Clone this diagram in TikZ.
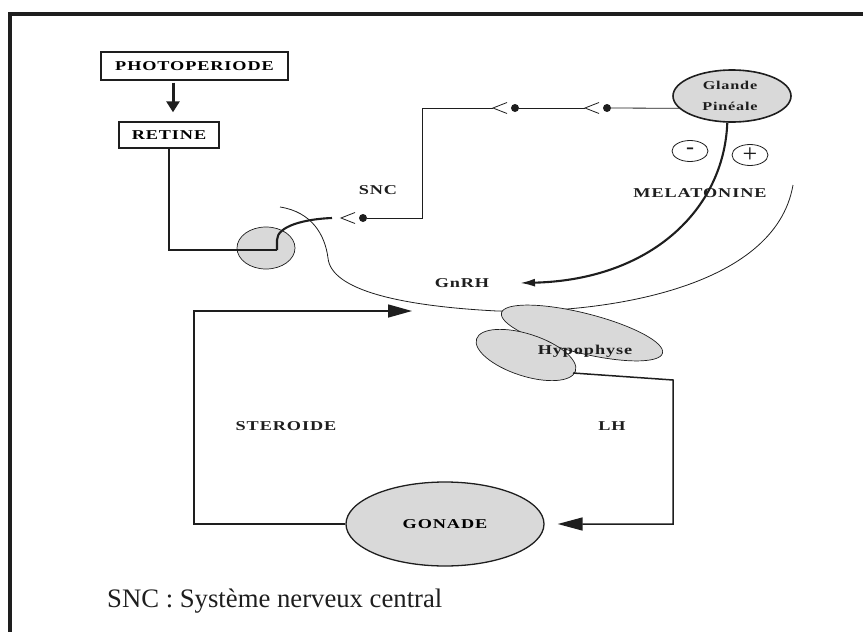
\documentclass[tikz,border=0pt]{standalone}
\usepackage{fontspec}
\setmainfont{Liberation Serif}
\newfontfamily\labfont[LetterSpace=5]{Liberation Serif}
\usetikzlibrary{arrows.meta,shapes.geometric}
\definecolor{ink}{HTML}{1E1E1E}
\definecolor{organgray}{HTML}{D9D9D9}
\newcommand\mylbl[2][13.5]{\scalebox{1.35}[1]{\labfont\bfseries\fontsize{#1}{#1}\selectfont #2}}
\newcommand\mychev[1]{\draw[thinline] ([xshift=-8pt,yshift=5.5pt]#1.center) -- ([xshift=-22pt]#1.center) -- ([xshift=-8pt,yshift=-5.5pt]#1.center);}
\begin{document}
\begin{tikzpicture}[x=1pt,y=-1pt,
  boxnode/.style={draw=ink, line width=1.4pt, inner sep=0pt},
  organ/.style={ellipse, draw=ink, fill=organgray, inner sep=0pt},
  lab/.style={inner sep=0pt, text=ink},
  thinline/.style={draw=ink, line width=0.8pt},
  conn/.style={draw=ink, line width=1.5pt},
  nerve/.style={draw=ink, line width=2.1pt},
  dotnode/.style={circle, fill=ink, inner sep=0pt, minimum size=8pt},
  sign/.style={ellipse, draw=ink, line width=0.8pt, minimum width=36pt, minimum height=21pt, inner sep=0pt, text=ink}
]
\useasboundingbox (0,0) rectangle (863,632);
% frame
\draw[ink, line width=4pt] (10,632) -- (10,14) -- (863,14);

% boxes
\node[boxnode, minimum width=187pt, minimum height=28pt] (photo) at (194.5,66) {\mylbl{PHOTOPERIODE}};
\node[boxnode, minimum width=100pt, minimum height=26pt] (retine) at (169,135) {\mylbl{RETINE}};
\draw[ink, line width=3pt, -{Triangle[length=11pt,width=13pt]}, shorten <=2pt, shorten >=9pt]
  ([xshift=-21.5pt]photo.south) -- ([xshift=4pt]retine.north);

% hypothalamus outline
\draw[thinline] (280,207) .. controls (312,212) and (325,235) .. (328,258)
  .. controls (331,290) and (400,306) .. (497,311)
  .. controls (600,314) and (775,290) .. (793,185);

% retina nerve
\node[organ, line width=0.7pt, minimum width=58pt, minimum height=42pt] (nucleus) at (266,248) {};
\coordinate (r1) at (277,250);
\coordinate (n1) at (332,218);
\draw[conn] (retine.south) |- (r1);
\draw[nerve] (r1) -- ++(0,-10) .. controls (277,226) and (305,219) .. (n1);

% pineal gland
\node[organ, line width=1.6pt, minimum width=118pt, minimum height=52pt] (glande) at (732,96) {};
\node[lab] at (730,85) {\mylbl[12]{Glande}};
\node[lab] at (730,106) {\mylbl[12]{Pinéale}};

% synapses
\node[dotnode] (d1) at (363,218) {};
\node[dotnode] (d2) at (515,108) {};
\node[dotnode] (d3) at (607,108) {};
\coordinate (c1) at (422,218);
\mychev{d1}
\mychev{d2}
\mychev{d3}
\draw[thinline] (d1) -- (c1) |- ([xshift=-22pt]d2.center);
\draw[thinline] (d2) -- ([xshift=-22pt]d3.center);
\draw[thinline] (d3) -- (glande.193);

% labels
\node[lab] (snc) at (378,190) {\mylbl{SNC}};
\node[lab] (melat) at (700,193) {\mylbl{MELATONINE}};
\node[lab] (gnrh) at (462,283) {\mylbl{GnRH}};
\node[sign] (minus) at (690,151) {\fontsize{24}{24}\selectfont -};
\node[sign] (plus) at (750,155) {\fontsize{26}{26}\selectfont +};

% melatonin arrow
\coordinate (gtip) at (520,283);
\draw[nerve, -{Latex[length=15pt,width=8pt]}] (glande.260) .. controls (724,210) and (650,280) .. (gtip);

% hypophyse
\node[organ, line width=0.7pt, minimum width=166pt, minimum height=40pt, rotate=-14] (hypo1) at (582,333) {};
\node[organ, line width=0.7pt, minimum width=104pt, minimum height=42pt, rotate=-18] (hypo2) at (526,355) {};
\node[lab] (hyptext) at (585,351) {\mylbl{Hypophyse}};

% gonade
\node[organ, line width=1.3pt, minimum width=198pt, minimum height=84pt] (gonade) at (445,524) {\mylbl{GONADE}};

% LH loop
\coordinate (lhs) at (573,373);
\coordinate (lc1) at (673,380);
\draw[conn, -{Triangle[length=25pt,width=13pt]}, shorten >=13pt] (lhs) -- (lc1) |- (gonade.east);
\node[lab] (lh) at (612,426) {\mylbl{LH}};

% steroid loop
\coordinate (sc) at (194,311);
\coordinate (stip) at (412,311);
\draw[conn, -{Triangle[length=24pt,width=13pt]}] (gonade.west) -| (sc) -- (stip);
\node[lab] (ster) at (286,426) {\mylbl{STEROIDE}};

% footer
\node[anchor=base west, inner sep=0pt, text=ink, font=\fontsize{26.7}{30}\selectfont] (foot) at (107,607) {SNC : Système nerveux central};
\end{tikzpicture}
\end{document}
